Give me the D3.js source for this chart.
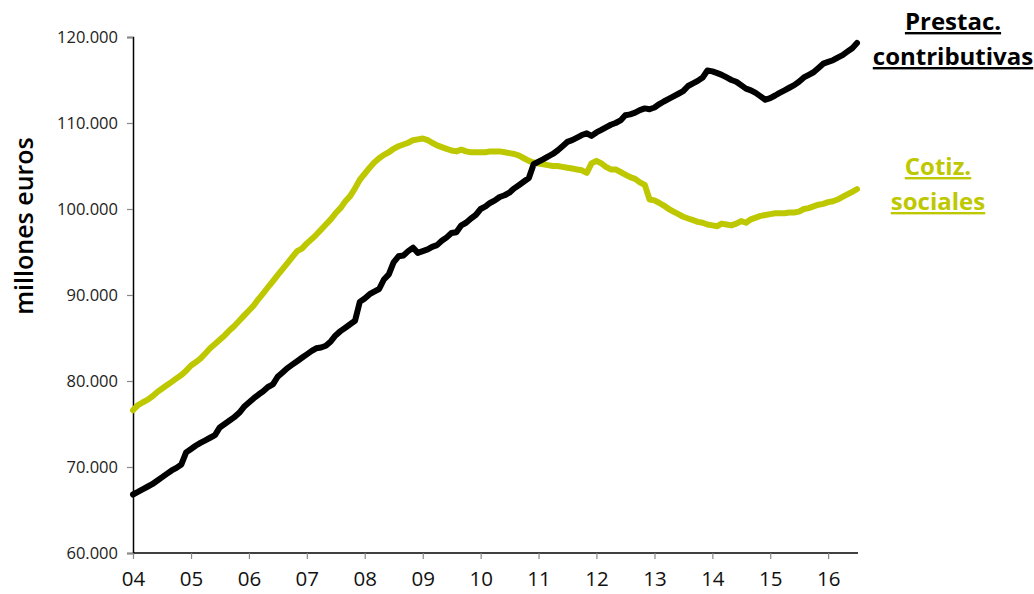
<!DOCTYPE html>
<html><head><meta charset="utf-8">
<script src="https://cdn.jsdelivr.net/npm/d3@7"></script>
<style>body{margin:0;background:#fff}svg{display:block}</style>
</head><body>
<svg id="c" width="1034" height="594"></svg>
<script>
const startYear = 2004, startMonth = 0;
const prestac = [
 66.8,67.1,67.4,67.7,68.0,68.4,68.8,69.2,69.6,69.9,70.3,71.7,
 72.1,72.5,72.8,73.1,73.4,73.7,74.6,75.0,75.4,75.8,76.3,77.0,
 77.5,78.0,78.4,78.8,79.3,79.6,80.5,81.0,81.5,81.9,82.3,82.7,
 83.1,83.5,83.8,83.9,84.1,84.6,85.3,85.8,86.2,86.6,87.0,89.2,
 89.6,90.1,90.4,90.7,91.8,92.4,93.8,94.5,94.6,95.1,95.5,94.9,
 95.1,95.3,95.6,95.8,96.3,96.7,97.2,97.3,98.1,98.4,98.9,99.3,
 100.0,100.3,100.7,101.0,101.4,101.6,101.9,102.4,102.8,103.2,103.6,105.2,
 105.5,105.8,106.1,106.4,106.8,107.3,107.8,108.0,108.3,108.6,108.8,108.5,
 108.9,109.2,109.5,109.8,110.0,110.3,110.9,111.0,111.2,111.5,111.7,111.6,
 111.8,112.2,112.5,112.8,113.1,113.4,113.7,114.3,114.6,114.9,115.3,116.1,
 116.0,115.8,115.6,115.3,115.0,114.8,114.4,114.0,113.8,113.5,113.1,112.7,
 112.9,113.2,113.5,113.8,114.1,114.4,114.8,115.3,115.6,115.9,116.4,116.9,
 117.1,117.3,117.6,117.9,118.3,118.7,119.3
];
const cotiz = [
 76.6,77.2,77.5,77.8,78.2,78.7,79.1,79.5,79.9,80.3,80.7,81.2,
 81.8,82.2,82.6,83.2,83.8,84.3,84.8,85.3,85.9,86.4,87.0,87.6,
 88.2,88.8,89.5,90.2,90.9,91.6,92.3,93.0,93.7,94.4,95.1,95.4,
 96.0,96.5,97.0,97.6,98.2,98.8,99.5,100.1,100.9,101.5,102.4,103.4,
 104.1,104.8,105.4,105.9,106.3,106.6,107.0,107.3,107.5,107.7,108.0,108.1,
 108.2,108.0,107.7,107.4,107.2,107.0,106.8,106.7,106.9,106.7,106.6,106.6,
 106.6,106.6,106.7,106.7,106.7,106.6,106.5,106.4,106.2,105.9,105.6,105.4,
 105.3,105.2,105.1,105.0,105.0,104.9,104.8,104.7,104.6,104.5,104.2,105.3,
 105.6,105.3,104.9,104.6,104.6,104.3,104.0,103.7,103.5,103.1,102.8,101.1,
 101.0,100.7,100.4,100.0,99.7,99.4,99.1,98.9,98.7,98.5,98.4,98.2,
 98.1,98.0,98.3,98.2,98.1,98.3,98.6,98.4,98.8,99.0,99.2,99.3,
 99.4,99.5,99.5,99.5,99.6,99.6,99.7,100.0,100.1,100.3,100.5,100.6,
 100.8,100.9,101.1,101.4,101.7,102.0,102.3
];
const yTicks = [60000,70000,80000,90000,100000,110000,120000];
const xTickYears = [2004,2005,2006,2007,2008,2009,2010,2011,2012,2013,2014,2015,2016];
const seriesNames = [["Prestac.","contributivas"],["Cotiz.","sociales"]];
const yTitle = "millones euros";

const svg = d3.select("#c");
const dates = prestac.map((_,i)=>new Date(startYear, startMonth+i, 1));
const x = d3.scaleTime().domain([dates[0], dates[dates.length-1]]).range([133, 857]);
const y = d3.scaleLinear().domain([60000,120000]).range([553, 37]);
const fmt = v => d3.format(",")(v).replace(/,/g, ".");

// Y axis
const ya = svg.append("g").attr("transform","translate(133,0)")
  .call(d3.axisLeft(y).tickValues(yTicks).tickFormat(fmt).tickSize(6).tickPadding(9));
ya.select(".domain").attr("stroke","#000").attr("stroke-width",1.5);
ya.selectAll(".tick line").attr("stroke","#888").attr("stroke-width",1.2);
ya.selectAll("text").attr("font-family","'Open Sans', sans-serif").attr("font-size",16.5).attr("fill","#222");

// X axis
const xa = svg.append("g").attr("transform","translate(0,553)")
  .call(d3.axisBottom(x).tickValues(xTickYears.map(yy=>new Date(yy,0,1)))
    .tickFormat(d=>String(d.getFullYear()%100).padStart(2,"0")).tickSize(6).tickPadding(12));
xa.select(".domain").attr("stroke","#000").attr("stroke-width",1.5).attr("d","M133,0H858");
xa.selectAll(".tick line").attr("stroke","#888").attr("stroke-width",1.2);
xa.selectAll("text").attr("font-family","'Open Sans', sans-serif").attr("font-size",20.5).attr("fill","#111");

// lines
const line = d3.line().x((d,i)=>x(dates[i])).y(d=>y(d*1000)).curve(d3.curveLinear);
svg.append("path").datum(cotiz).attr("d",line).attr("fill","none")
  .attr("stroke","#bdc800").attr("stroke-width",6).attr("stroke-linejoin","round").attr("stroke-linecap","round");
svg.append("path").datum(prestac).attr("d",line).attr("fill","none")
  .attr("stroke","#000").attr("stroke-width",6).attr("stroke-linejoin","round").attr("stroke-linecap","round");

// y title
svg.append("text").attr("transform","translate(33,226) rotate(-90)")
  .attr("text-anchor","middle").attr("font-family","'Open Sans', sans-serif")
  .attr("font-size",25).attr("font-weight",600).attr("fill","#000").text(yTitle);

// legends
function label(lines, cx, y0, color){
  lines.forEach((t,k)=>{
    svg.append("text").attr("x",cx).attr("y",y0+k*35).attr("text-anchor","middle")
      .attr("font-family","'Open Sans', sans-serif").attr("font-size",24).attr("font-weight",700)
      .attr("fill",color).attr("text-decoration","underline").text(t);
  });
}
label(seriesNames[0], 953, 30, "#000");
label(seriesNames[1], 938, 175, "#bdc800");
</script>
</body></html>
